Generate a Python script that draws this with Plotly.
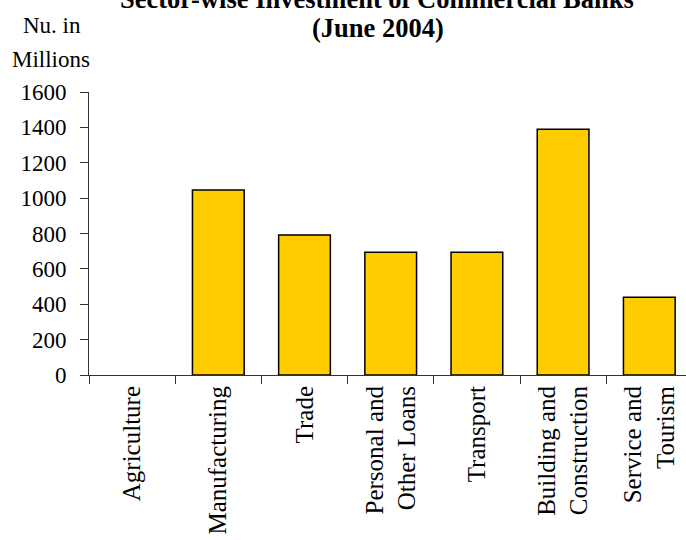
import plotly.graph_objects as go

# Sector-wise investment of commercial banks, June 2004 (Nu. in millions)
sectors = [
    "Agriculture",
    "Manufacturing",
    "Trade",
    "Personal and<br>Other Loans",
    "Transport",
    "Building and<br>Construction",
    "Service and<br>Tourism",
]
investment = [0, 1046, 791, 694, 694, 1389, 439]

y_ticks = [0, 200, 400, 600, 800, 1000, 1200, 1400, 1600]

SERIF = "Liberation Serif, Times New Roman, serif"

# plot area geometry (pixels)
W, H = 686, 540
LEFT, TOP, BOTTOM = 89, 91.7, 165
plot_h = H - TOP - BOTTOM
cat_w = 86.2
x_max = -0.5 + (W - LEFT) / cat_w


def py(pixel_y):
    """Convert a pixel row to paper y."""
    return (H - BOTTOM - pixel_y) / plot_h


def px(pixel_x):
    """Convert a pixel column to paper x."""
    return (pixel_x - LEFT) / (W - LEFT)


# empty sectors get no outline so nothing is drawn on the baseline
outline_widths = [0 if v == 0 else 1.5 for v in investment]

fig = go.Figure(
    go.Bar(
        x=sectors,
        y=investment,
        width=0.6,
        marker=dict(color="#FFCC00", line=dict(color="#000000", width=outline_widths)),
        showlegend=False,
        hoverinfo="x+y",
    )
)

fig.update_layout(
    width=W,
    height=H,
    margin=dict(l=LEFT, r=0, t=TOP, b=BOTTOM, pad=0),
    plot_bgcolor="white",
    paper_bgcolor="white",
    font=dict(family=SERIF, color="black"),
    bargap=0.4,
)

fig.update_xaxes(
    type="category",
    range=[-0.5, x_max],
    showgrid=False,
    showline=True,
    linecolor="#333333",
    linewidth=1,
    ticks="outside",
    tickson="boundaries",
    ticklen=8,
    tickcolor="#333333",
    tickangle=-90,
    tickfont=dict(family=SERIF, size=25, color="black"),
    zeroline=False,
)

fig.update_yaxes(
    range=[0, 1600],
    tickvals=y_ticks,
    ticktext=[str(v) for v in y_ticks],
    showgrid=False,
    showline=True,
    linecolor="#333333",
    linewidth=1,
    ticks="outside",
    ticklen=8,
    tickcolor="#333333",
    tickfont=dict(family=SERIF, size=23, color="black"),
    ticklabelstandoff=9,
    zeroline=False,
)

# Chart title (two lines)
fig.add_annotation(
    text="<b>Sector-wise Investment of Commercial Banks</b>",
    xref="paper", yref="paper",
    x=px(377), y=py(-1), xanchor="center", yanchor="middle",
    showarrow=False,
    font=dict(family=SERIF, size=26.5, color="black"),
)
fig.add_annotation(
    text="<b>(June 2004)</b>",
    xref="paper", yref="paper",
    x=px(378), y=py(28), xanchor="center", yanchor="middle",
    showarrow=False,
    font=dict(family=SERIF, size=26.5, color="black"),
)

# Unit label above the value axis
fig.add_annotation(
    text="Nu. in",
    xref="paper", yref="paper",
    x=px(52), y=py(25), xanchor="center", yanchor="middle",
    showarrow=False,
    font=dict(family=SERIF, size=23, color="black"),
)
fig.add_annotation(
    text="Millions",
    xref="paper", yref="paper",
    x=px(51), y=py(59), xanchor="center", yanchor="middle",
    showarrow=False,
    font=dict(family=SERIF, size=23, color="black"),
)

fig.write_html("out.html")
